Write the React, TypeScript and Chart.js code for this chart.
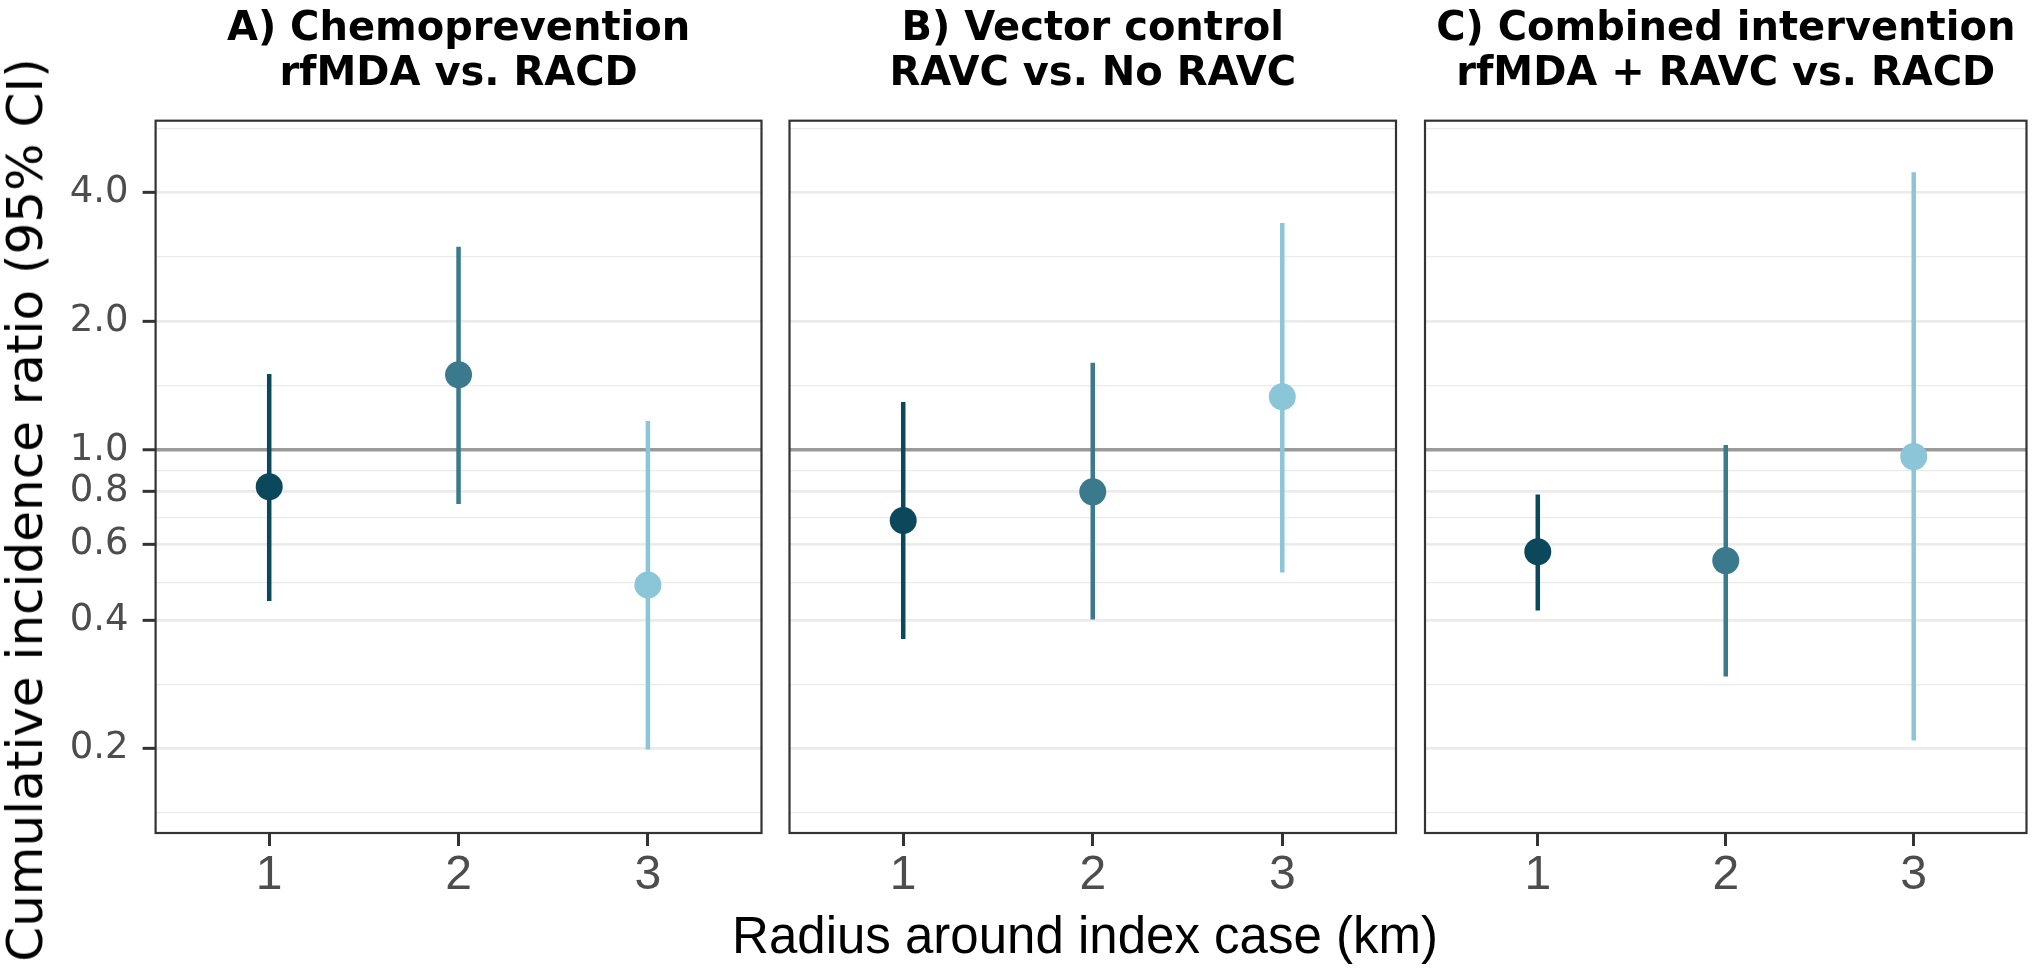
import React, { useEffect, useRef } from 'react';
import { Chart, registerables } from 'chart.js';

Chart.register(...registerables);

// ---------------- data ----------------
const radiusKm = [1, 2, 3];
const pointColors = ['#0c485c', '#3a7a8c', '#8ac5d8'];

const titleA = ['A) Chemoprevention', 'rfMDA vs. RACD'];
const titleB = ['B) Vector control', 'RAVC vs. No RAVC'];
const titleC = ['C) Combined intervention', 'rfMDA + RAVC vs. RACD'];

const estA = [0.82, 1.5, 0.483];
const lowA = [0.443, 0.747, 0.199];
const highA = [1.506, 2.99, 1.17];

const estB = [0.684, 0.798, 1.332];
const lowB = [0.361, 0.401, 0.517];
const highB = [1.295, 1.6, 3.4];

const estC = [0.578, 0.551, 0.965];
const lowC = [0.421, 0.295, 0.209];
const highC = [0.787, 1.027, 4.47];

const yMajorTicks = [0.2, 0.4, 0.6, 0.8, 1.0, 2.0, 4.0];
const yMinorGrid = [0.1414, 0.2828, 0.4899, 0.6928, 0.8944, 1.4142, 2.8284, 5.6569];
const xTicks = [1, 2, 3];
const refValue = 1.0;

const yTitle = 'Cumulative incidence ratio (95% CI)';
const xTitle = 'Radius around index case (km)';

// ---------------- styling ----------------
const Y_MIN = 0.1269;
const Y_MAX = 5.9;
const X_MIN = 0.4;
const X_MAX = 3.6;
const H = 971;

const isMajor = (v: number) => yMajorTicks.some((t) => Math.abs(t - v) < 1e-9);
const isRef = (v: number) => Math.abs(v - refValue) < 1e-9;

const panelBorder = {
  id: 'panelBorder',
  afterDatasetsDraw(chart: any) {
    const { ctx, chartArea: a } = chart;
    ctx.save();
    ctx.strokeStyle = '#333333';
    ctx.lineWidth = 2.2;
    ctx.strokeRect(a.left, a.top, a.right - a.left, a.bottom - a.top);
    ctx.restore();
  },
};

function makeConfig(
  title: string[],
  est: number[],
  low: number[],
  high: number[],
  showY: boolean,
  padL: number,
  padR: number
): any {
  const allY = [...yMajorTicks, ...yMinorGrid].sort((a, b) => a - b);
  const datasets: any[] = [
    {
      label: 'estimate',
      data: radiusKm.map((x, i) => ({ x, y: est[i] })),
      pointRadius: 13.5,
      pointHoverRadius: 13.5,
      pointBackgroundColor: pointColors,
      pointBorderColor: pointColors,
      pointBorderWidth: 0,
      showLine: false,
      order: 0,
    },
    ...radiusKm.map((x, i) => ({
      label: 'ci' + x,
      data: [
        { x, y: low[i] },
        { x, y: high[i] },
      ],
      borderColor: pointColors[i],
      backgroundColor: pointColors[i],
      borderWidth: 4.5,
      pointRadius: 0,
      pointHoverRadius: 0,
      showLine: true,
      order: 1,
    })),
  ];

  return {
    type: 'scatter',
    data: { datasets },
    plugins: [panelBorder],
    options: {
      responsive: false,
      animation: false,
      events: [],
      layout: { padding: { left: padL, right: padR, top: 0, bottom: 0 } },
      plugins: {
        legend: { display: false },
        tooltip: { enabled: false },
        title: {
          display: true,
          text: title,
          fullSize: false,
          color: '#000000',
          font: { family: "'DejaVu Sans', sans-serif", size: 40, weight: 'bold', lineHeight: 1.125 },
          padding: { top: 6.7, bottom: 24 },
        },
      },
      scales: {
        x: {
          type: 'linear',
          min: X_MIN,
          max: X_MAX,
          bounds: 'data',
          afterBuildTicks: (s: any) => {
            s.ticks = xTicks.map((v) => ({ value: v }));
          },
          afterFit: (s: any) => {
            s.height = 138;
          },
          grid: {
            drawOnChartArea: false,
            drawTicks: true,
            tickLength: 13,
            tickWidth: 3,
            tickColor: '#333333',
          },
          border: { display: false },
          ticks: {
            font: { family: "'Liberation Sans', Arial, sans-serif", size: 48, lineHeight: 1.2 },
            color: '#4d4d4d',
            padding: 1,
            autoSkip: false,
            maxRotation: 0,
            callback: (v: any) => String(v),
          },
        },
        y: {
          type: 'logarithmic',
          min: Y_MIN,
          max: Y_MAX,
          bounds: 'data',
          afterBuildTicks: (s: any) => {
            s.ticks = allY.map((v) => ({ value: v }));
          },
          afterFit: (s: any) => {
            s.width = showY ? 155.6 : 0;
          },
          grid: {
            color: (c: any) => (isRef(c.tick.value) ? '#9a9a9a' : '#ebebeb'),
            lineWidth: (c: any) => (isRef(c.tick.value) ? 3.5 : isMajor(c.tick.value) ? 2.7 : 1.3),
            drawTicks: showY,
            tickLength: 13,
            tickWidth: 3,
            tickColor: (c: any) => (isMajor(c.tick.value) ? '#333333' : 'rgba(0,0,0,0)'),
          },
          border: { display: false },
          ticks: {
            display: showY,
            font: { family: "'DejaVu Sans', sans-serif", size: 37 },
            color: '#4d4d4d',
            padding: 14,
            autoSkip: false,
            callback: (v: any) => (isMajor(Number(v)) ? Number(v).toFixed(1) : ''),
          },
        },
      },
    },
  };
}

type PanelProps = {
  left: number;
  width: number;
  title: string[];
  est: number[];
  low: number[];
  high: number[];
  showY: boolean;
  padL: number;
  padR: number;
};

function Panel(p: PanelProps) {
  const ref = useRef<HTMLCanvasElement>(null);
  useEffect(() => {
    if (!ref.current) return;
    const chart = new Chart(ref.current, makeConfig(p.title, p.est, p.low, p.high, p.showY, p.padL, p.padR));
    return () => chart.destroy();
  }, []);
  return (
    <canvas
      ref={ref}
      width={p.width}
      height={H}
      style={{ position: 'absolute', left: p.left, top: 0, width: p.width, height: H, display: 'block' }}
    />
  );
}

export default function App() {
  return (
    <div style={{ position: 'absolute', left: 0, top: 0, width: 2040, height: H, background: '#ffffff', overflow: 'hidden' }}>
      <Panel left={0} width={775} title={titleA} est={estA} low={lowA} high={highA} showY={true} padL={0} padR={13} />
      <Panel left={776} width={634} title={titleB} est={estB} low={lowB} high={highB} showY={false} padL={13} padR={14} />
      <Panel left={1410} width={630} title={titleC} est={estC} low={lowC} high={highC} showY={false} padL={15} padR={7} />
      <div
        style={{
          position: 'absolute',
          left: 25,
          top: 510,
          transform: 'translate(-50%, -50%) rotate(-90deg)',
          whiteSpace: 'nowrap',
          fontFamily: "'DejaVu Sans', sans-serif",
          fontSize: 50,
          lineHeight: 1,
          color: '#000000',
        }}
      >
        {yTitle}
      </div>
      <div
        style={{
          position: 'absolute',
          left: 1085,
          top: 910,
          transform: 'translateX(-50%)',
          whiteSpace: 'nowrap',
          fontFamily: "'Liberation Sans', Arial, sans-serif",
          fontSize: 51,
          lineHeight: 1,
          color: '#000000',
        }}
      >
        {xTitle}
      </div>
    </div>
  );
}
